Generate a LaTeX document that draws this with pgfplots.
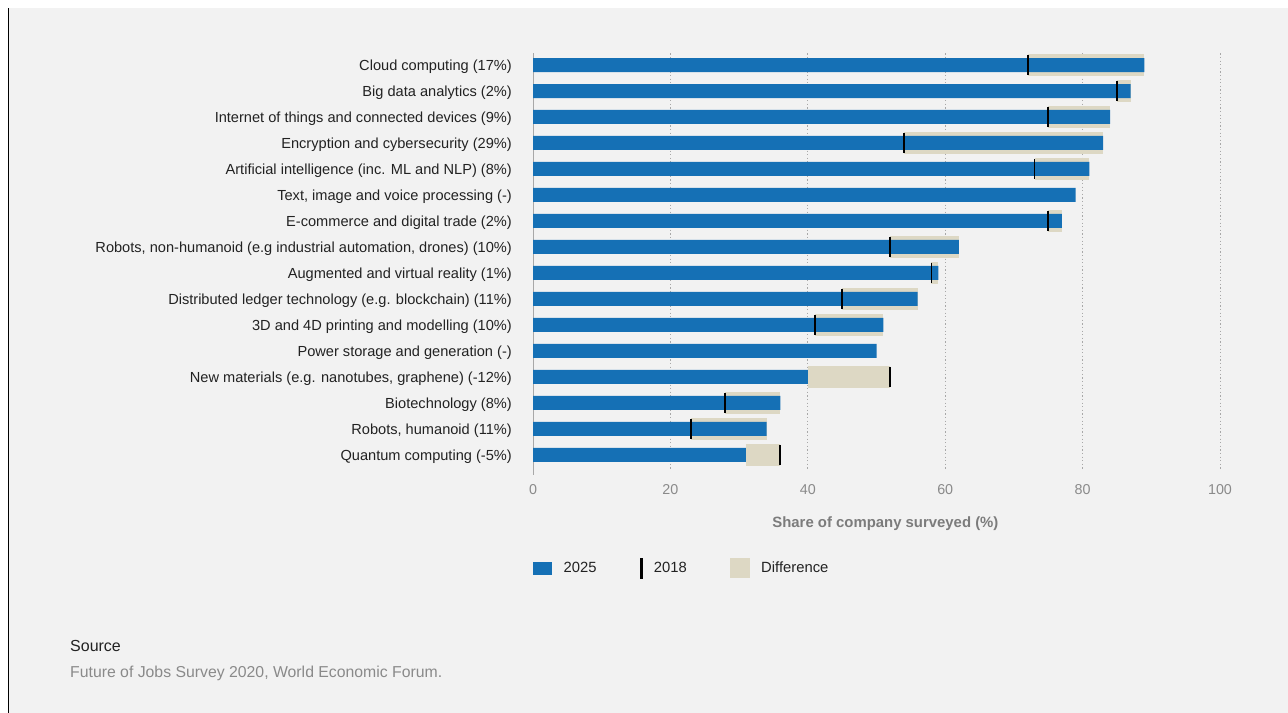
\documentclass[border=0pt]{standalone}
\usepackage{pgfplots}
\pgfplotsset{compat=1.18}
\usepackage{pgfplotstable}
\usepackage{fontspec}
\setmainfont{Liberation Sans}
\definecolor{bgc}{HTML}{F2F2F2}
\definecolor{barblue}{HTML}{1570B5}
\definecolor{beige}{HTML}{DDD8C4}
\definecolor{gridc}{HTML}{A8A8A8}
\definecolor{ticktext}{HTML}{8A8A8A}
\definecolor{labtext}{HTML}{222222}

\pgfplotstableread{
row v25 v18
1 89 72
2 87 85
3 84 75
4 83 54
5 81 73
6 79 nan
7 77 75
8 62 52
9 59 58
10 56 45
11 51 41
12 50 nan
13 40 52
14 36 28
15 34 23
16 31 36
}\techdata

\begin{document}
\begin{tikzpicture}
\fill[white] (0,0) rectangle (1288bp,-713bp);
\fill[bgc] (9bp,-8bp) rectangle (1288bp,-713bp);
\draw[black, line width=1.6bp] (8.5bp,-8bp) -- (8.5bp,-713bp);
\begin{axis}[
  at={(533bp,-470bp)}, anchor=south west,
  scale only axis, width=687bp, height=416.7bp,
  xmin=0, xmax=100, ymin=0.55, ymax=16.58, y dir=reverse,
  axis line style={draw=none},
  xtick={0,20,40,60,80,100},
  ytick={1,...,16},
  yticklabels={{Cloud computing (17\%)},{Big data analytics (2\%)},{Internet of things and connected devices (9\%)},{Encryption and cybersecurity (29\%)},{Artificial intelligence (inc. ML and NLP) (8\%)},{Text, image and voice processing (-)},{E-commerce and digital trade (2\%)},{Robots, non-humanoid (e.g industrial automation, drones) (10\%)},{Augmented and virtual reality (1\%)},{Distributed ledger technology (e.g. blockchain) (11\%)},{3D and 4D printing and modelling (10\%)},{Power storage and generation (-)},{New materials (e.g. nanotubes, graphene) (-12\%)},{Biotechnology (8\%)},{Robots, humanoid (11\%)},{Quantum computing (-5\%)}},
  major tick length=0,
  xmajorgrids, grid style={gridc, line width=0.8bp, dash pattern=on 1.2bp off 2.4bp},
  /pgf/number format/assume math mode=true,
  xticklabel style={anchor=center, yshift=-20bp, text=ticktext, font=\fontsize{14.3bp}{16bp}\selectfont},
  yticklabel style={anchor=east, inner sep=0pt, xshift=-21bp, yshift=-1.5bp, text=labtext, font=\fontsize{14.6bp}{16bp}\selectfont},
  xlabel={Share of company surveyed (\%)},
  xlabel style={at={(rel axis cs:0.513,0)}, anchor=center, yshift=-54bp, text=ticktext!90!black, font=\fontsize{14.9bp}{16bp}\selectfont\bfseries},
  clip=false,
  legend columns=3,
  legend style={at={(rel axis cs:0,0)}, anchor=west, yshift=-98bp, draw=none, fill=none, inner sep=0pt,
    nodes={inner sep=0pt, anchor=west, text=labtext, font=\fontsize{14.8bp}{16bp}\selectfont},
    /tikz/every odd column/.append style={column sep=12bp},
    /tikz/every even column/.append style={column sep=43bp}},
]
\draw[gridc, line width=1bp] (axis cs:0,0.55) -- (axis cs:0,16.78);
% difference
\addplot[draw=beige, line width=22bp, unbounded coords=jump, forget plot] coordinates {
(72,1) (89,1) (nan,1)
(85,2) (87,2) (nan,2)
(75,3) (84,3) (nan,3)
(54,4) (83,4) (nan,4)
(73,5) (81,5) (nan,5)
(75,7) (77,7) (nan,7)
(52,8) (62,8) (nan,8)
(58,9) (59,9) (nan,9)
(45,10) (56,10) (nan,10)
(41,11) (51,11) (nan,11)
(40,13) (52,13) (nan,13)
(28,14) (36,14) (nan,14)
(23,15) (34,15) (nan,15)
(31,16) (36,16)
};
% 2025
\addplot[xbar, bar width=14bp, bar shift=0pt, fill=barblue, draw=none, forget plot] table[x=v25, y=row] {\techdata};
% 2018
\addplot[only marks, mark=|, mark size=10bp, mark options={line width=1.8bp, draw=black}, forget plot] table[x=v18, y=row] {\techdata};

\addlegendimage{legend image code/.code={\fill[barblue] (0bp,-6bp) rectangle (18bp,6bp);}}
\addlegendentry{2025}
\addlegendimage{legend image code/.code={\path (0bp,-10bp) rectangle (2bp,10bp); \draw[black, line width=2bp] (1bp,-10bp) -- (1bp,10bp);}}
\addlegendentry{2018}
\addlegendimage{legend image code/.code={\fill[beige] (0bp,-9.5bp) rectangle (19bp,9.5bp);}}
\addlegendentry{Difference}
\end{axis}
\node[anchor=west, inner sep=0pt, text=labtext, font=\fontsize{16bp}{18bp}\selectfont] at (70bp,-646bp) {Source};
\node[anchor=west, inner sep=0pt, text=ticktext, font=\fontsize{15.8bp}{18bp}\selectfont] at (70bp,-673.5bp) {Future of Jobs Survey 2020, World Economic Forum.};
\pgfresetboundingbox
\useasboundingbox (0,0) rectangle (1288bp,-713bp);
\end{tikzpicture}
\end{document}
